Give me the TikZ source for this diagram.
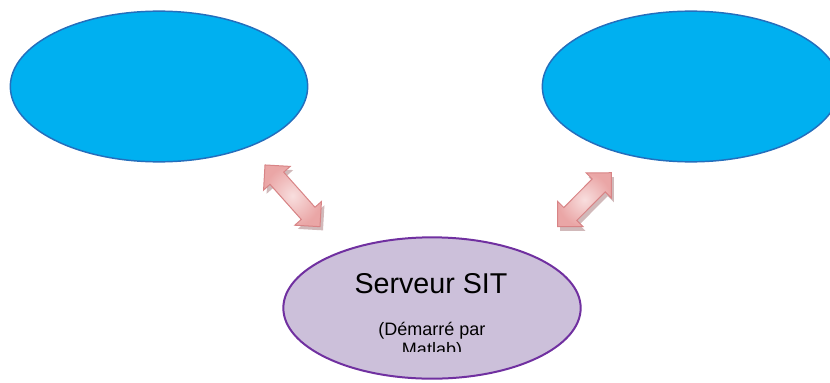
\documentclass[tikz,border=0pt]{standalone}
\usepackage{fontspec}
\setmainfont{Liberation Sans}
\usetikzlibrary{shapes.geometric,shapes.arrows}

\definecolor{cielblue}{RGB}{0,176,240}
\definecolor{cielborder}{RGB}{36,110,188}
\definecolor{lilac}{RGB}{204,192,218}
\definecolor{violetborder}{RGB}{112,48,160}
\definecolor{rosefill}{RGB}{248,222,222}
\definecolor{roseedge}{RGB}{234,166,166}
\definecolor{roseline}{RGB}{216,132,134}
\definecolor{roseshadow}{RGB}{178,138,140}

\tikzset{every picture/.style={line width=0.75pt}}
\tikzset{
  client/.style={ellipse, draw=cielborder, fill=cielblue, line width=1.1pt,
    minimum width=223pt, minimum height=113pt, inner sep=0pt},
  serveur/.style={ellipse, draw=violetborder, fill=lilac, line width=1.5pt,
    minimum width=223pt, minimum height=106pt, inner sep=0pt},
  echange/.style={double arrow, double arrow head extend=6.5pt, inner xsep=0pt,
    inner ysep=6.5pt, minimum width=0pt, minimum height=#1, draw=roseline,
    inner color=rosefill, outer color=roseedge},
  ombre/.style={double arrow, double arrow head extend=6.5pt, inner xsep=0pt,
    inner ysep=6.5pt, minimum width=0pt, minimum height=#1, fill=roseshadow,
    draw=none, opacity=0.6}
}

\begin{document}
\begin{tikzpicture}[x=0.75pt,y=0.75pt,yscale=-1,xscale=1]
\useasboundingbox (0,0) rectangle (830,382);

%Shape: Ellipse [client gauche]
\node [client] (gauche) at (159,86.5) {};
%Shape: Ellipse [client droit]
\node [client] (droite) at (691,86.5) {};
%Shape: Ellipse [serveur]
\node [serveur] (sit) at (432,308) {};

%Double Arrows
\node [ombre=62pt, rotate=-48.3] (ombreg) at (295.5,199.5) {};
\node [echange=62pt, rotate=-48.3] (flecheg) at (292.5,195.8) {};
\node [ombre=57pt, rotate=45.2] (ombred) at (587,204) {};
\node [echange=57pt, rotate=45.2] (fleched) at (584.5,199.7) {};

% Text Node
\node [anchor=base, inner sep=0pt, font=\fontsize{21.5}{26}\selectfont] (titre) at (431,293) {Serveur SIT};
% Text Node
\begin{scope}
\clip (330,312) rectangle (535,351);
\node [anchor=base, inner sep=0pt, align=center, font=\fontsize{13.5}{15}\selectfont] (note) at (432,355) {(Démarré par\\Matlab)};
\end{scope}

\end{tikzpicture}
\end{document}
